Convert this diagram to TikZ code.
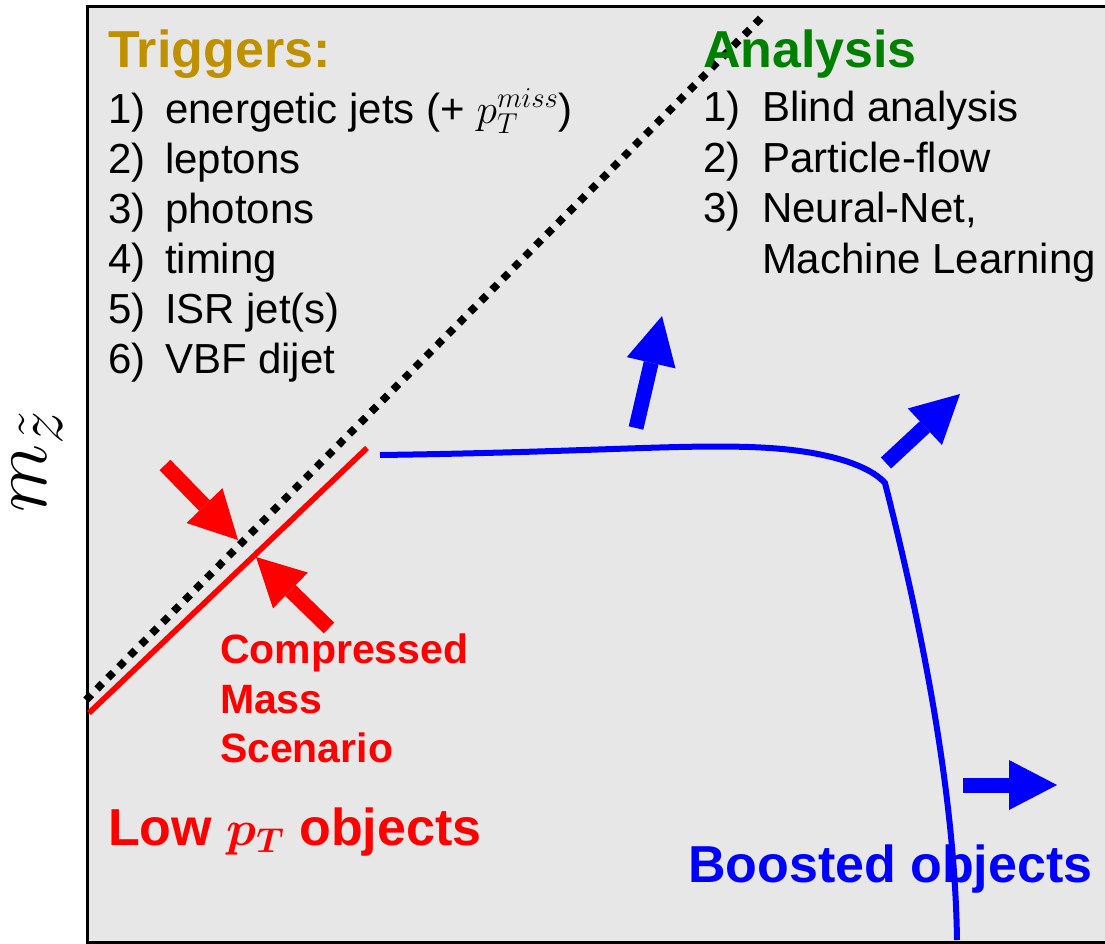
\documentclass[tikz,border=0pt]{standalone}
\usepackage{fontspec}
\setmainfont{Liberation Sans}
\usepackage{bm}
\usetikzlibrary{arrows.meta}
\definecolor{bgray}{RGB}{231,231,231}
\definecolor{gold}{RGB}{191,144,0}
\definecolor{agreen}{RGB}{0,128,0}
\definecolor{pblue}{RGB}{0,0,255}
\definecolor{pred}{RGB}{255,0,0}
\begin{document}
\begin{tikzpicture}[x=0.5pt,y=-0.5pt,
  every node/.style={inner sep=0pt, outer sep=0pt},
  title/.style={anchor=base west, font=\bfseries\fontsize{26}{30}\selectfont},
  item/.style={anchor=base west, font=\fontsize{21}{25}\selectfont},
  redtxt/.style={anchor=base west, text=pred, font=\bfseries\fontsize{20.5}{24}\selectfont},
  bigtxt/.style={anchor=base west, font=\bfseries\fontsize{26}{30}\selectfont},
  blockarrow/.style={line width=7.5pt, -{Triangle[length=24pt,width=25pt,line width=0pt]}},
]
\useasboundingbox (0,0) rectangle (1105,944);
\fill[bgray] (87,6) rectangle (1105,942);
\draw[line width=1.5pt] (1105,6) -- (87,6) -- (87,942) -- (1105,942);

% axis label
\node[rotate=90, scale=1.6, font=\fontsize{24.88}{30}\selectfont] (ylab) at (37,461) {$m_{\tilde{z}}$};

% dotted diagonal
\coordinate (d0) at (86,700);
\coordinate (d1) at (765,14);
\draw[line width=3.8pt, dash pattern=on 3.8pt off 4pt] (d0) -- (d1);

% red compressed line
\coordinate (r0) at (89,713);
\coordinate (r1) at (367,448);
\draw[pred, line width=2.8pt] (r0) -- (r1);

% red arrows
\coordinate (ra1s) at (165,465);
\coordinate (ra1e) at (238,540);
\coordinate (ra2s) at (329,628);
\coordinate (ra2e) at (256,557);
\draw[pred, blockarrow] (ra1s) -- (ra1e);
\draw[pred, blockarrow] (ra2s) -- (ra2e);

% blue boundary curve
\coordinate (b0) at (380,455);
\coordinate (bk) at (885,483);
\coordinate (b2) at (957,940);
\draw[pblue, line width=3pt] (b0) .. controls (600,452) and (690,443) .. (770,448)
  .. controls (830,452) and (870,466) .. (bk)
  .. controls (925,640) and (955,800) .. (b2);

% blue arrows
\coordinate (ba1s) at (636,428);
\coordinate (ba1e) at (662,316);
\coordinate (ba2s) at (886,463);
\coordinate (ba2e) at (960,394);
\coordinate (ba3s) at (963,785);
\coordinate (ba3e) at (1057,785);
\draw[pblue, blockarrow] (ba1s) -- (ba1e);
\draw[pblue, blockarrow] (ba2s) -- (ba2e);
\draw[pblue, blockarrow] (ba3s) -- (ba3e);

% Triggers
\node[title, text=gold] (trig) at (108,67) {Triggers:};
\node[item] (t1n) at (108,123) {1)};
\node[item] (t1) at (165,123) {energetic jets (+ $p_T^{miss}$)};
\node[item] (t2n) at (108,173) {2)};
\node[item] (t2) at (165,173) {leptons};
\node[item] (t3n) at (108,223) {3)};
\node[item] (t3) at (165,223) {photons};
\node[item] (t4n) at (108,273) {4)};
\node[item] (t4) at (165,273) {timing};
\node[item] (t5n) at (108,323) {5)};
\node[item] (t5) at (165,323) {ISR jet(s)};
\node[item] (t6n) at (108,373) {6)};
\node[item] (t6) at (165,373) {VBF dijet};

% Analysis
\node[title, text=agreen] (ana) at (703,67) {Analysis};
\node[item] (a1n) at (703,121) {1)};
\node[item] (a1) at (762,121) {Blind analysis};
\node[item] (a2n) at (703,172) {2)};
\node[item] (a2) at (762,172) {Particle-flow};
\node[item] (a3n) at (703,222) {3)};
\node[item] (a3) at (762,222) {Neural-Net,};
\node[item] (a4) at (762,273) {Machine Learning};

% red labels
\node[redtxt] (c1) at (220,663) {Compressed};
\node[redtxt] (c2) at (220,713) {Mass};
\node[redtxt] (c3) at (220,762) {Scenario};
\node[bigtxt, text=pred] (low) at (108,845) {Low $\bm{p_T}$ objects};
\node[bigtxt, text=pblue] (boost) at (688,882) {Boosted objects};
\end{tikzpicture}
\end{document}
